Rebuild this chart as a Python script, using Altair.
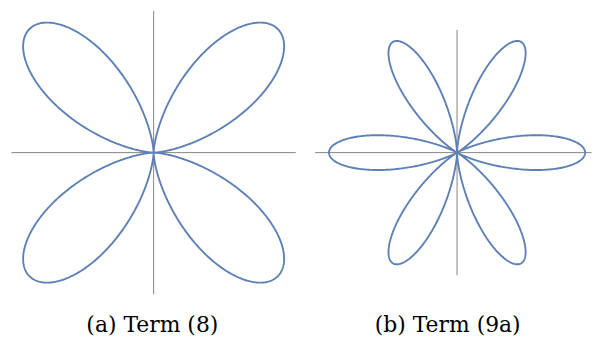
import numpy as np
import pandas as pd
import altair as alt

# Panel contents
CAPTIONS = ["(a) Term (8)", "(b) Term (9a)"]
PETAL_COUNTS = [4, 6]            # number of petals of each rose
PETAL_LENGTHS = [1.0, 1.0]       # petal length (data units)
FIRST_PETAL_ANGLE = [45.0, 0.0]  # direction of first petal, degrees
X_RANGE = [[-0.81, 0.81], [-1.108, 1.05]]   # visible plot range (x)
Y_RANGE = [[-0.81, 0.81], [-1.108, 1.108]]  # visible plot range (y)
AXIS_Y_HALF = [0.81, 0.96]       # half-length of vertical axis line
CAPTION_DX = [-1.3, -5.7]
PANEL_W = [286, 278]
PANEL_H = 285

CURVE_COLOR = "#5E81B5"
AXIS_COLOR = "#858585"


def panel(i):
    n = PETAL_COUNTS[i]
    L = PETAL_LENGTHS[i]
    th0 = np.radians(FIRST_PETAL_ANGLE[i])
    theta = np.linspace(0, 2 * np.pi, 1441)
    r = L * np.cos(n / 2 * (theta - th0)) ** 2
    df = pd.DataFrame({"i": np.arange(len(theta)),
                       "x": r * np.cos(theta),
                       "y": r * np.sin(theta)})
    xs = alt.Scale(domain=X_RANGE[i], nice=False, zero=False)
    ys = alt.Scale(domain=Y_RANGE[i], nice=False, zero=False)
    ax_df = pd.DataFrame({
        "x": [X_RANGE[i][0], 0.0], "x2": [X_RANGE[i][1], 0.0],
        "y": [0.0, -AXIS_Y_HALF[i]], "y2": [0.0, AXIS_Y_HALF[i]],
    })
    rules = alt.Chart(ax_df).mark_rule(color=AXIS_COLOR, strokeWidth=1).encode(
        x=alt.X("x:Q", scale=xs, axis=None),
        x2="x2:Q",
        y=alt.Y("y:Q", scale=ys, axis=None),
        y2="y2:Q",
    )
    curve = alt.Chart(df).mark_line(color=CURVE_COLOR, strokeWidth=1.9).encode(
        x=alt.X("x:Q", scale=xs, axis=None),
        y=alt.Y("y:Q", scale=ys, axis=None),
        order="i:Q",
    )
    return alt.layer(rules, curve).properties(
        width=PANEL_W[i], height=PANEL_H,
        title=alt.TitleParams(
            text=CAPTIONS[i], orient="bottom", anchor="middle",
            font="DejaVu Serif", fontSize=22, fontWeight="normal",
            color="black", baseline="alphabetic", offset=37.5,
            dx=CAPTION_DX[i],
        ),
    )


chart = alt.hconcat(panel(0), panel(1), spacing=17.5).properties(
    padding={"left": 2.5, "top": 1, "right": 0, "bottom": 0},
    background="white",
).configure_view(stroke=None)

chart.save("out.html", embed_options={"renderer": "svg", "actions": False})
